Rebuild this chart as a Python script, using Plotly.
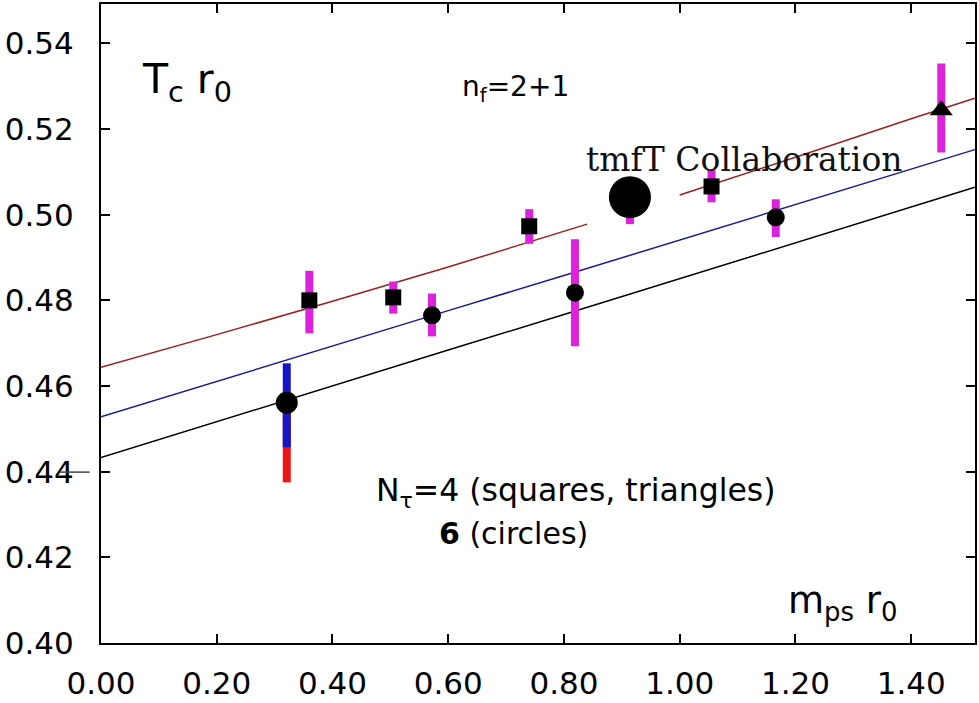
import plotly.graph_objects as go

# N_tau = 4 lattices: squares
sq_x = [0.360, 0.505, 0.740, 1.055]
sq_y = [0.4800, 0.4807, 0.4973, 0.5066]
sq_up = [0.0069, 0.0037, 0.0040, 0.0039]
sq_dn = [0.0077, 0.0038, 0.0041, 0.0037]

# N_tau = 4 lattice: triangle
tri_x = [1.452]
tri_y = [0.5244]
tri_up = [0.0109]
tri_dn = [0.0099]

# N_tau = 6 lattices: circles
ci_x = [0.572, 0.819, 1.166]
ci_y = [0.4765, 0.4818, 0.4994]
ci_up = [0.0051, 0.0125, 0.0042]
ci_dn = [0.0049, 0.0125, 0.0046]

# lightest N_tau = 6 point: statistical (blue) and total (red) errors
lo_x = [0.321]
lo_y = [0.4561]
lo_stat_up = [0.0092]
lo_stat_dn = [0.0104]
lo_tot_dn = [0.0186]

# tmfT point
tm_x = [0.914]
tm_y = [0.5041]
tm_up = [0.0030]
tm_dn = [0.0063]

# extrapolation curves (sampled)
red_x1 = [0.0, 0.2, 0.4, 0.6, 0.84]
red_y1 = [0.4644, 0.4720, 0.4798, 0.4878, 0.4978]
red_x2 = [1.0, 1.2, 1.4, 1.51]
red_y2 = [0.5046, 0.5134, 0.5224, 0.5272]
blue_x = [0.0, 0.2, 0.4, 0.6, 0.8, 1.0, 1.2, 1.4, 1.51]
blue_y = [0.4528, 0.4611, 0.4694, 0.4776, 0.4858, 0.4941, 0.5024, 0.5106, 0.5152]
black_x = [0.0, 0.2, 0.4, 0.6, 0.8, 1.0, 1.2, 1.4, 1.51]
black_y = [0.4433, 0.4517, 0.4600, 0.4684, 0.4767, 0.4851, 0.4935, 0.5018, 0.5064]

x_ticks = [0.0, 0.2, 0.4, 0.6, 0.8, 1.0, 1.2, 1.4]
y_ticks = [0.40, 0.42, 0.44, 0.46, 0.48, 0.50, 0.52, 0.54]

MAGENTA = "#dd22dd"
BLUE = "#1515c8"
RED = "#ee1515"

fig = go.Figure()

for xs, ys, col in [(red_x1, red_y1, "#9a2020"), (red_x2, red_y2, "#9a2020"),
                    (blue_x, blue_y, "#1a1a90"), (black_x, black_y, "#000000")]:
    fig.add_trace(go.Scatter(x=xs, y=ys, mode="lines",
                             line=dict(color=col, width=1.5), hoverinfo="skip"))

def err(up, dn, col):
    return dict(type="data", symmetric=False, array=up, arrayminus=dn,
                color=col, thickness=8, width=0)

# red total error bar, then blue statistical on top
fig.add_trace(go.Scatter(x=lo_x, y=lo_y, mode="markers",
                         marker=dict(size=1, color="rgba(0,0,0,0)"),
                         error_y=err([0.0], lo_tot_dn, RED)))
fig.add_trace(go.Scatter(x=lo_x, y=lo_y, mode="markers",
                         marker=dict(symbol="circle", size=22, color="black"),
                         error_y=err(lo_stat_up, lo_stat_dn, BLUE)))

fig.add_trace(go.Scatter(x=sq_x, y=sq_y, mode="markers",
                         marker=dict(symbol="square", size=16, color="black"),
                         error_y=err(sq_up, sq_dn, MAGENTA)))
fig.add_trace(go.Scatter(x=tri_x, y=tri_y, mode="markers",
                         marker=dict(symbol="triangle-up", size=20, color="black"),
                         error_y=err(tri_up, tri_dn, MAGENTA)))
fig.add_trace(go.Scatter(x=ci_x, y=ci_y, mode="markers",
                         marker=dict(symbol="circle", size=18, color="black"),
                         error_y=err(ci_up, ci_dn, MAGENTA)))
fig.add_trace(go.Scatter(x=tm_x, y=tm_y, mode="markers",
                         marker=dict(symbol="circle", size=42, color="black"),
                         error_y=err(tm_up, tm_dn, MAGENTA)))

SANS = "DejaVu Sans"
axis_common = dict(showline=True, linecolor="black", linewidth=2, mirror="ticks",
                   ticks="inside", ticklen=9, tickwidth=1.5, tickcolor="black",
                   showgrid=False, zeroline=False, tickformat=".2f",
                   tickfont=dict(family=SANS, size=31, color="black"))

fig.update_layout(
    width=979, height=703,
    margin=dict(l=101, r=2, t=3, b=56),
    paper_bgcolor="white", plot_bgcolor="white",
    showlegend=False,
    xaxis=dict(range=[0, 1.5103], tickvals=x_ticks, ticklabelstandoff=12, **axis_common),
    yaxis=dict(range=[0.40, 0.5492], tickvals=y_ticks, ticklabelstandoff=19, **axis_common),
)

def px2x(px):
    return (px - 101) / 580.0

def px2y(py):
    return 0.40 + (647 - py) / 4315.0

ann = [
    dict(text="T<sub>c</sub> r<sub>0</sub>", x=px2x(140), y=px2y(82),
         font=dict(family=SANS, size=41, color="black")),
    dict(text="n<sub>f</sub>=2+1", x=px2x(461), y=px2y(88),
         font=dict(family=SANS, size=28, color="black")),
    dict(text="tmfT Collaboration", x=px2x(585), y=px2y(160),
         font=dict(family="DejaVu Serif", size=33, color="#111111")),
    dict(text="N<sub>τ</sub>=4 (squares, triangles)", x=px2x(375), y=px2y(495),
         font=dict(family=SANS, size=31.5, color="black")),
    dict(text="<b>6</b> (circles)", x=px2x(438), y=px2y(537),
         font=dict(family=SANS, size=30, color="black")),
    dict(text="m<sub>ps</sub> r<sub>0</sub>", x=px2x(788), y=px2y(607),
         font=dict(family=SANS, size=37, color="black")),
]
for a in ann:
    fig.add_annotation(xref="x", yref="y", xanchor="left", yanchor="middle",
                       showarrow=False, **a)

# small stroke next to the 0.44 tick label
fig.add_shape(type="line", xref="paper", yref="y", x0=-0.047, x1=-0.013,
              y0=0.4399, y1=0.4399, line=dict(color="#444444", width=1.5))

fig.write_html("out.html")
